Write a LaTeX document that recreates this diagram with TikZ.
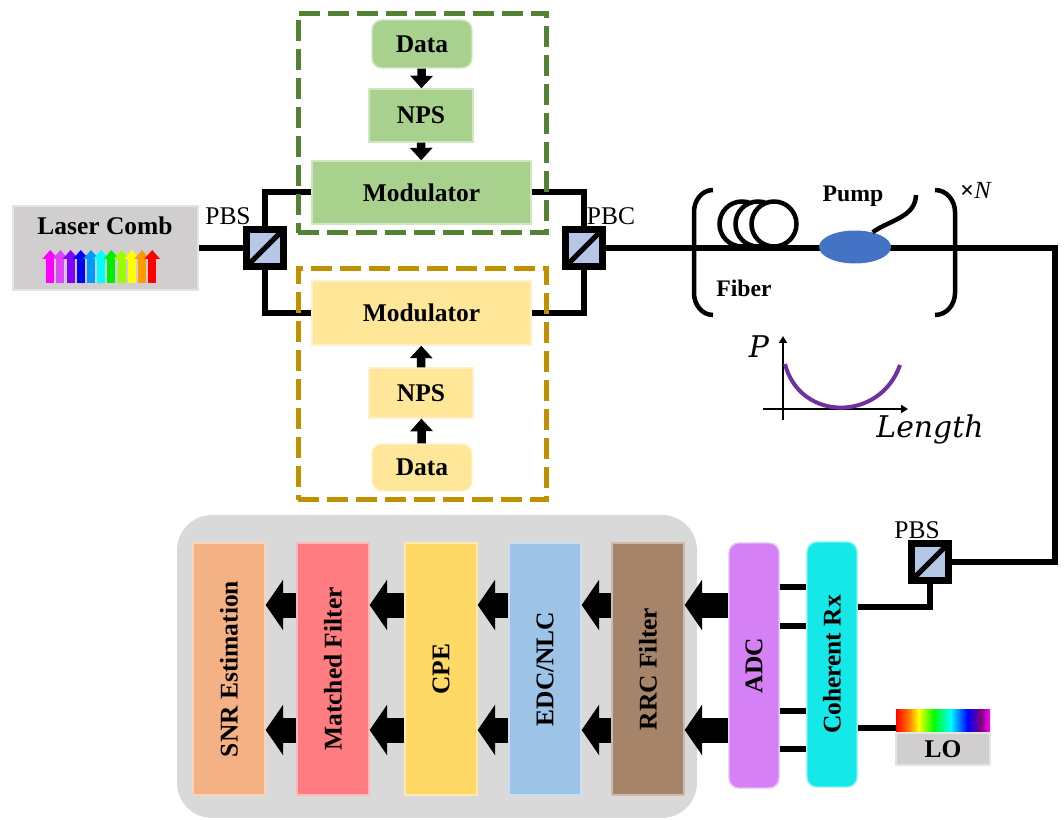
\documentclass[tikz,border=0pt]{standalone}
\usepackage{fontspec}
\setmainfont{Liberation Serif}
\newfontfamily\plotfont{DejaVu Serif}
\usepackage{tikz}
\usepackage{xcolor}
\usetikzlibrary{calc,arrows.meta,shapes.geometric}

\definecolor{greenfill}{HTML}{A9D18E}
\definecolor{greenframe}{HTML}{548235}
\definecolor{yellowfill}{HTML}{FFE699}
\definecolor{goldframe}{HTML}{BF9000}
\definecolor{combgray}{HTML}{D0CECE}
\definecolor{pbsblue}{HTML}{B4C7E7}
\definecolor{pumpblue}{HTML}{4472C4}
\definecolor{curvepurple}{HTML}{7030A0}
\definecolor{panelgray}{HTML}{D9D9D9}
\definecolor{snrfill}{HTML}{F4B183}
\definecolor{mffill}{HTML}{FF7C80}
\definecolor{cpefill}{HTML}{FFD966}
\definecolor{edcfill}{HTML}{9DC3E6}
\definecolor{rrcfill}{HTML}{A5846A}
\definecolor{adcfill}{HTML}{D580F5}
\definecolor{cohfill}{HTML}{14E8E8}
% comb lines
\definecolor{comb1}{HTML}{FF00FF}
\definecolor{comb2}{HTML}{DD44FF}
\definecolor{comb3}{HTML}{7F00FF}
\definecolor{comb4}{HTML}{0000FF}
\definecolor{comb5}{HTML}{0099FF}
\definecolor{comb6}{HTML}{00FFFF}
\definecolor{comb7}{HTML}{00EE00}
\definecolor{comb8}{HTML}{99FF00}
\definecolor{comb9}{HTML}{FFFF00}
\definecolor{comb10}{HTML}{FF9900}
\definecolor{comb11}{HTML}{FF0000}

\pgfdeclarehorizontalshading{lorainbow}{100bp}{color(0bp)=(red); color(25bp)=(red);
  color(32bp)=(orange); color(37bp)=(yellow); color(45bp)=(green); color(54bp)=(cyan);
  color(63bp)=(blue); color(70bp)=(violet); color(75bp)=(magenta); color(100bp)=(magenta)}

\begin{document}
\begin{tikzpicture}[x=0.02cm, y=-0.02cm]
    % Styles for boxes and lines
    \tikzset{
      lbl/.style={font=\fontsize{14.5}{17}\selectfont\bfseries},
      plainlbl/.style={font=\fontsize{14.5}{17}\selectfont},
      box/.style={rectangle, lbl, draw=#1!55!white, fill=#1, line width=0.8pt, inner sep=0pt, align=center},
      dspbar/.style={box=#1, minimum width=1.44cm, minimum height=5.04cm},
      grpframe/.style={rectangle, draw=#1, line width=0.1cm, dash pattern=on 0.42cm off 0.16cm, minimum width=4.98cm},
      pbsbox/.style={rectangle, draw=black, fill=pbsblue, line width=0.14cm, minimum size=0.74cm, inner sep=0pt,
        path picture={\draw[line width=0.1cm] (path picture bounding box.south west) -- (path picture bounding box.north east);}},
      fib/.style={line width=0.12cm},
      bracket/.style={line width=0.09cm},
      smallarrow/.style={line width=0.17cm, -{Triangle[width=0.44cm, length=0.25cm]}},
      bigarrow/.style={line width=0.5cm, -{Triangle[width=1cm, length=0.35cm]}},
      axis/.style={line width=0.055cm, -{Triangle[width=0.16cm, length=0.14cm]}}
    }
    \useasboundingbox (0,0) rectangle (1064,820);

    % DSP panel
    \node[fill=panelgray, rounded corners=0.7cm, minimum width=10.4cm, minimum height=6.06cm] (dsp) at (437,666.5) {};

    % Transmitter
    \node[box=combgray, minimum width=3.7cm, minimum height=1.68cm] (laser) at (105.5,248) {};
    \node[lbl] (lasertxt) at (105,226) {Laser Comb};
    \foreach \i in {1,...,11}
      \draw[line width=0.16cm, -{Triangle[width=0.3cm, length=0.18cm]}, comb\i] (40+\i*10.2,283) -- (40+\i*10.2,250);

    \node[pbsbox] (pbs1) at (265,248) {};
    \node[plainlbl] at (228,216) {PBS};
    \node[pbsbox] (pbc) at (584,248) {};
    \node[plainlbl] at (611,216) {PBC};

    \node[box=greenfill, rounded corners=0.2cm, minimum width=2cm, minimum height=0.96cm] (dataA) at (422,44) {Data};
    \node[box=greenfill, minimum width=2.08cm, minimum height=1.06cm] (npsA) at (421,115.5) {NPS};
    \node[box=greenfill, minimum width=4.38cm, minimum height=1.26cm] (modA) at (421.5,192.5) {Modulator};

    \node[box=yellowfill, minimum width=4.38cm, minimum height=1.28cm] (modB) at (421.5,313) {Modulator};
    \node[box=yellowfill, minimum width=2.08cm, minimum height=1cm] (npsB) at (421,393) {NPS};
    \node[box=yellowfill, rounded corners=0.2cm, minimum width=2cm, minimum height=0.94cm] (dataB) at (422,467.5) {Data};

    \draw[smallarrow] (dataA) -- (npsA);
    \draw[smallarrow] (npsA) -- (modA);
    \draw[smallarrow] (dataB) -- (npsB);
    \draw[smallarrow] (npsB) -- (modB);

    \draw[fib] (laser.east) -- (pbs1.west);
    \draw[fib] (pbs1.north) |- (modA.west);
    \draw[fib] (pbs1.south) |- (modB.west);
    \draw[fib] (modA.east) -| (pbc.north);
    \draw[fib] (modB.east) -| (pbc.south);

    \node[grpframe=greenframe, minimum height=4.4cm] (grpA) at (422.5,123) {};
    \node[grpframe=goldframe, minimum height=4.64cm] (grpB) at (422.5,384) {};

    % Fiber span
    \node[pbsbox] (pbs2) at (930,562) {};
    \node[plainlbl] at (917,530) {PBS};
    \coordinate (turn) at (1055,248);
    \draw[fib] (pbc.east) -- (turn) |- (pbs2.east);
    \foreach \cx in {742,758,774}
      \draw[bracket, fill=white] (\cx,224) circle (0.45cm);
    \node[ellipse, fill=pumpblue, minimum width=1.44cm, minimum height=0.66cm, inner sep=0pt] (pump) at (855,247) {};
    \draw[bracket] (pump.40) to[out=35, in=-92] (916,195);
    \node[lbl, font=\fontsize{13.5}{16}\selectfont\bfseries] (pumptxt) at (853,196) {Pump};
    \node[lbl, font=\fontsize{13.5}{16}\selectfont\bfseries] (fibertxt) at (744,288) {Fiber};
    \draw[bracket] (713,190) to[out=180, in=90] (694,212) -- (694,293) to[out=-90, in=180] (713,315);
    \draw[bracket] (935,190) to[out=0, in=90] (955,212) -- (955,293) to[out=-90, in=0] (935,315);
    \node[font=\fontsize{14}{16}\selectfont] (span) at (976,190) {\textbf{×}\textit{N}};

    % Power profile
    \draw[axis] (783,420) -- (783,336);
    \draw[axis] (763,409) -- (908,409);
    \draw[line width=0.08cm, curvepurple] (785,364) .. controls (800,422) and (880,422) .. (900,365);
    \node[font=\fontsize{17}{20}\selectfont\plotfont\itshape] (ptxt) at (759,347) {P};
    \node[font=\fontsize{17}{20}\selectfont\plotfont\itshape] (lentxt) at (930,429) {Length};

    % Receiver
    \node[box=adcfill, rounded corners=0.2cm, minimum width=1cm, minimum height=4.9cm] (adc) at (754,665.5) {\rotatebox{90}{ADC}};
    \node[box=cohfill, rounded corners=0.2cm, minimum width=1cm, minimum height=4.9cm] (coh) at (832,664.5) {\rotatebox{90}{Coherent Rx}};
    \node[minimum width=1.88cm, minimum height=0.48cm, shading=lorainbow, inner sep=0pt] (lospec) at (943,721) {};
    \node[box=combgray, minimum width=1.88cm, minimum height=0.64cm] (lo) at (943,749) {LO};

    \foreach \yy in {587,626,711,749} {
      \coordinate (tap) at (790,\yy);
      \draw[fib] (adc.east |- tap) -- (coh.west |- tap);
    }
    \draw[fib] (pbs2.south) |- ([yshift=1.15cm]coh.east);
    \coordinate (lotap) at ([yshift=0.1cm]lospec.south west);
    \draw[fib] (lotap) -- (coh.east |- lotap);

    % DSP chain
    \node[dspbar=snrfill] (snr) at (229,669) {\rotatebox{90}{SNR Estimation}};
    \node[dspbar=mffill] (mf) at (333,669) {\rotatebox{90}{Matched Filter}};
    \node[dspbar=cpefill] (cpe) at (441,669) {\rotatebox{90}{CPE}};
    \node[dspbar=edcfill] (edc) at (545,669) {\rotatebox{90}{EDC/NLC}};
    \node[dspbar=rrcfill] (rrc) at (648,669) {\rotatebox{90}{RRC Filter}};

    \coordinate (rowA) at (0,605);
    \coordinate (rowB) at (0,730);
    \foreach \a/\b in {adc/rrc, rrc/edc, edc/cpe, cpe/mf, mf/snr} {
      \draw[bigarrow] (\a.west |- rowA) -- (\b.east |- rowA);
      \draw[bigarrow] (\a.west |- rowB) -- (\b.east |- rowB);
    }
\end{tikzpicture}
\end{document}
